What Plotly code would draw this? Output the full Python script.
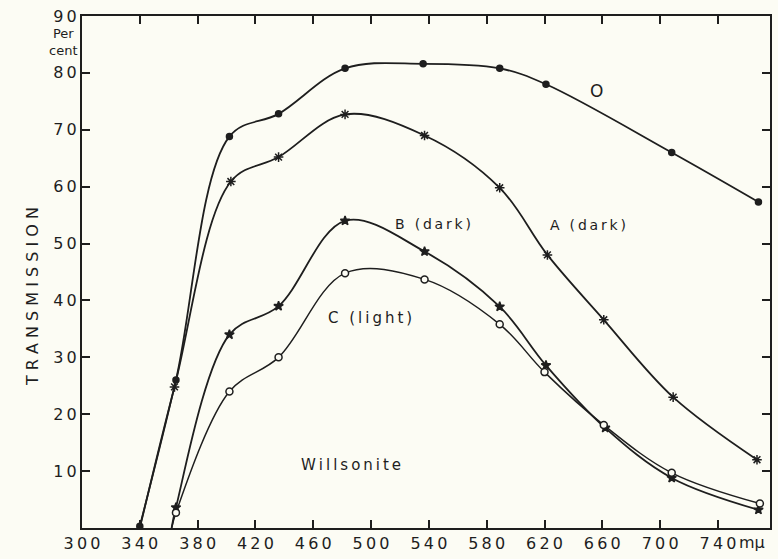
import plotly.graph_objects as go

# ---------------- data ----------------
o_x = [340, 365, 402, 436, 482, 536, 589, 621, 708, 768]
o_y = [0.3, 26.0, 68.8, 72.8, 80.8, 81.6, 80.8, 78.0, 66.0, 57.3]

a_x = [340, 364, 403, 436, 482, 537, 589, 622, 661, 709, 767]
a_y = [0.0, 24.8, 60.9, 65.2, 72.7, 69.0, 59.8, 48.0, 36.6, 23.0, 12.0]

b_x = [362, 365, 402, 436, 482, 537, 589, 621, 662, 708, 768]
b_y = [0.0, 3.6, 34.0, 39.0, 54.0, 48.6, 38.9, 28.6, 17.6, 8.8, 3.2]

c_x = [362, 365, 402, 436, 482, 537, 589, 620, 661, 708, 769]
c_y = [0.0, 2.7, 24.0, 30.0, 44.8, 43.7, 35.8, 27.4, 18.1, 9.7, 4.3]

x_ticks = [300, 340, 380, 420, 460, 500, 540, 580, 620, 660, 700, 740]
y_ticks = [10, 20, 30, 40, 50, 60, 70, 80, 90]

INK = "#1e1e1e"
BG = "#fcfcf4"
FONT = "DejaVu Sans"


def spaced(s, sep="\u2009"):
    return sep.join(list(s))


fig = go.Figure()


def add_curve(xs, ys, sym, size, fill, lw, skip_first_marker=False):
    fig.add_trace(go.Scatter(
        x=xs, y=ys, mode="lines",
        line=dict(color=INK, width=lw, shape="spline", smoothing=1.0),
        hoverinfo="skip", showlegend=False))
    mx = xs[1:] if skip_first_marker else xs
    my = ys[1:] if skip_first_marker else ys
    fig.add_trace(go.Scatter(
        x=mx, y=my, mode="markers",
        marker=dict(symbol=sym, size=size, color=fill,
                    line=dict(color=INK, width=1.5)),
        showlegend=False))


add_curve(o_x, o_y, "circle", 6, INK, 1.8)
add_curve(a_x, a_y, "asterisk-open", 8, INK, 1.8, skip_first_marker=True)
add_curve(b_x, b_y, "star", 7, INK, 1.8, skip_first_marker=True)
add_curve(c_x, c_y, "circle", 7, BG, 1.5, skip_first_marker=True)

labels = [
    ("O", 656, 76.8, 17),
    ("B (dark)", 543, 53.5, 14),
    ("A (dark)", 650, 53.2, 14),
    ("C (light)", 499, 37.0, 15),
    ("Willsonite", 486, 11.0, 15),
]
for txt, lx, ly, fs in labels:
    fig.add_annotation(x=lx, y=ly, text=spaced(txt), showarrow=False,
                       font=dict(family=FONT, size=fs, color=INK),
                       xanchor="center", yanchor="middle")

# y-axis title
fig.add_annotation(xref="paper", yref="paper", x=-0.072, y=0.452,
                   text=spaced("TRANSMISSION", " "), textangle=-90,
                   showarrow=False, xanchor="center", yanchor="middle",
                   font=dict(family=FONT, size=16, color=INK))
# "Per cent"
fig.add_annotation(xref="paper", yref="paper", x=-0.004, y=0.95,
                   text="Per<br>cent", showarrow=False,
                   xanchor="right", yanchor="middle", align="center",
                   font=dict(family=FONT, size=13, color=INK))
# unit mμ
fig.add_annotation(xref="x", yref="paper", x=740, y=0, xshift=19, yshift=-14,
                   text="mμ", showarrow=False, xanchor="left", yanchor="middle",
                   font=dict(family=FONT, size=16, color=INK))

fig.update_xaxes(range=[300, 776], tickvals=x_ticks,
                 ticktext=[spaced(str(v)) for v in x_ticks],
                 ticks="inside", ticklen=8, tickwidth=1.5, tickcolor=INK,
                 showline=True, linecolor=INK, linewidth=2, mirror="ticks",
                 showgrid=False, zeroline=False,
                 tickfont=dict(family=FONT, size=16, color=INK))
fig.update_yaxes(range=[0, 90], tickvals=y_ticks,
                 ticktext=[spaced(str(v)) for v in y_ticks],
                 ticks="inside", ticklen=8, tickwidth=1.5, tickcolor=INK,
                 showline=True, linecolor=INK, linewidth=2, mirror="ticks",
                 showgrid=False, zeroline=False,
                 tickfont=dict(family=FONT, size=16, color=INK))

fig.update_layout(width=778, height=559,
                  margin=dict(l=82, r=6, t=16, b=25),
                  paper_bgcolor=BG, plot_bgcolor=BG)

fig.write_html("out.html")
